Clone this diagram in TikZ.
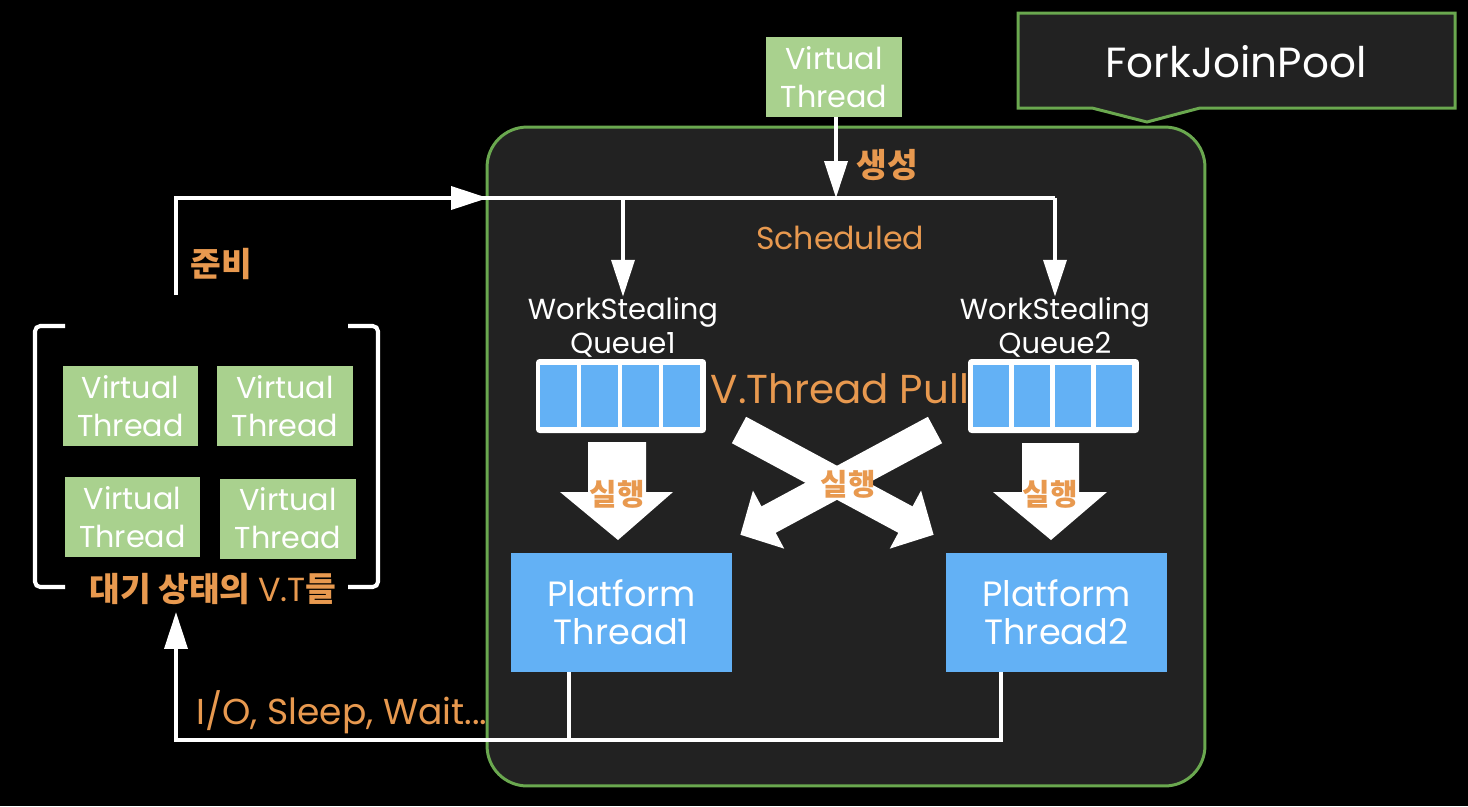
\documentclass[tikz,border=0pt]{standalone}
\usepackage{fontspec}
\setmainfont{Poppins}
\newfontfamily\krf{Noto Sans CJK KR}
\usetikzlibrary{arrows.meta}
\definecolor{panel}{HTML}{222222}
\definecolor{frame}{HTML}{6AA84F}
\definecolor{vtgreen}{HTML}{A9D18E}
\definecolor{ptblue}{HTML}{63B1F5}
\definecolor{orng}{HTML}{E8994F}
\newcommand{\fVT}{\fontsize{17.2}{21.5}\selectfont}
\newcommand{\fPT}{\fontsize{20}{21.5}\selectfont}
\newcommand{\fWS}{\fontsize{16.5}{19.3}\selectfont}
\newcommand{\fBig}{\fontsize{23}{26}\selectfont}
\newcommand{\fLbl}{\fontsize{18}{20}\selectfont}
\newcommand{\fIO}{\fontsize{20.5}{22}\selectfont}
\newcommand{\fKr}{\fontsize{19}{21}\selectfont\krf\bfseries}
\newcommand{\fKrs}{\fontsize{17}{19}\selectfont\krf\bfseries}
\begin{document}
\begin{tikzpicture}[x=0.02cm,y=-0.02cm,
  vt/.style={fill=vtgreen,text=white,minimum width=2.72cm,minimum height=1.6cm,inner sep=0pt,align=center,font=\fVT},
  pt/.style={fill=ptblue,text=white,minimum width=4.42cm,minimum height=2.38cm,inner sep=0pt,align=center,font=\fPT},
  wslabel/.style={text=white,align=center,font=\fWS,inner sep=0pt},
  olabel/.style={text=orng,inner sep=0pt,font=\fLbl},
  klabel/.style={text=orng,inner sep=0pt,font=\fKr},
  kslabel/.style={text=orng,inner sep=0pt,font=\fKrs},
  wline/.style={draw=white,line width=2.3pt},
  tip/.style={-{Triangle[length=21pt,width=13pt]}},
  brk/.style={draw=white,line width=2.3pt,rounded corners=3pt},
  blockarrow/.style={fill=white}
]
\useasboundingbox (0,0) rectangle (1468,806);
\fill[black] (0,0) rectangle (1468,806);

% main pool panel
\node[draw=frame,fill=panel,line width=1.7pt,rounded corners=0.8cm,minimum width=14.36cm,minimum height=13.18cm,inner sep=0pt] (pool) at (846,456.5) {};

% ForkJoinPool callout
\draw[draw=frame,fill=panel,line width=1.7pt] (1018,13) -- (1455,13) -- (1455,108) -- (1200,108) -- (1147,122) -- (1092,108) -- (1018,108) -- cycle;
\node[text=white,font=\fontsize{24}{26}\selectfont,inner sep=0pt] (fjp) at (1236,62) {ForkJoinPool};

% new virtual thread
\node[vt] (newvt) at (834,77) {Virtual\\Thread};

% waiting virtual threads
\node[vt] (w1) at (130.5,406) {Virtual\\Thread};
\node[vt] (w2) at (285,406) {Virtual\\Thread};
\node[vt] (w3) at (132.5,517) {Virtual\\Thread};
\node[vt] (w4) at (288,518.5) {Virtual\\Thread};
\draw[brk] (65,326) -- (35,326) -- (35,587) -- (65,587);
\draw[brk] (348,326) -- (378,326) -- (378,587) -- (348,587);
\node[inner sep=0pt,text=orng] (waitlbl) at (213,589) {\fKr 대기 상태의 {\fontsize{19}{21}\selectfont\mdseries\rmfamily V.T}들};

% work stealing queues
\node[wslabel] (ws1) at (623,327) {WorkStealing\\Queue1};
\node[wslabel] (ws2) at (1055,327) {WorkStealing\\Queue2};
\node[fill=white,rounded corners=2pt,minimum width=3.4cm,minimum height=1.48cm,inner sep=0pt] (q1) at (621,396) {};
\node[fill=white,rounded corners=2pt,minimum width=3.42cm,minimum height=1.48cm,inner sep=0pt] (q2) at (1053.5,396) {};
\foreach \i in {0,1,2,3} {
  \fill[ptblue] (540+\i*41,365) rectangle ++(36.5,62);
  \fill[ptblue] (972.5+\i*41,365) rectangle ++(36.5,62);
}

% platform threads
\node[pt] (pt1) at (621.5,612.5) {Platform\\Thread1};
\node[pt] (pt2) at (1056.5,612.5) {Platform\\Thread2};

% coordinates for connectors
\coordinate (ready0) at (176,295);
\coordinate (entry) at (488,198);
\coordinate (split1) at (623,198);
\coordinate (split2) at (1055,198);
\coordinate (spawn) at (836,198);
\coordinate (low) at (176,740);
\coordinate (waitin) at (176,612);
\coordinate (ret1) at ([xshift=-1.05cm]pt1.south);
\coordinate (ret2) at ([xshift=-1.11cm]pt2.south);

% scheduling lines
\draw[wline] (ready0) |- (split2);
\draw[wline,tip] (ready0) |- (entry);
\draw[wline,tip] (split1) -- (ws1.north);
\draw[wline,tip] (split2) -- (ws2.north);
\draw[wline,tip] (newvt.south -| spawn) -- (spawn);

% return lines
\draw[wline] (ret1) -- (ret1 |- low);
\draw[wline,tip] (ret2) |- (low) -- (waitin);

% block arrows
\fill[blockarrow] (588,442) -- (646,442) -- (646,492) -- (673,492) -- (618,540) -- (560,492) -- (588,492) -- cycle;
\fill[blockarrow] (1022,443) -- (1079,443) -- (1079,492) -- (1107,492) -- (1051,540) -- (993,492) -- (1022,492) -- cycle;
\begin{scope}[shift={(739,430)},rotate=-28.3]
  \fill[blockarrow] (0,15) -- (189,15) -- (189,33) -- (221,0) -- (189,-33) -- (189,-15) -- (0,-15) -- cycle;
\end{scope}
\begin{scope}[shift={(935,430)},rotate=-151.7]
  \fill[blockarrow] (0,15) -- (189,15) -- (189,33) -- (221,0) -- (189,-33) -- (189,-15) -- (0,-15) -- cycle;
\end{scope}

% labels
\node[klabel] (gen) at (887,165) {생성};
\node[olabel] (sched) at (840,238) {Scheduled};
\node[klabel] (ready) at (221,264) {준비};
\node[text=orng,inner sep=0pt,font=\fBig] (pull) at (840,389) {V.Thread Pull};
\node[kslabel] (run1) at (617,494) {실행};
\node[kslabel] (runx) at (848,484) {실행};
\node[kslabel] (run2) at (1050,494) {실행};
\node[text=orng,inner sep=0pt,font=\fIO] (io) at (342,712) {I/O, Sleep, Wait...};
\end{tikzpicture}
\end{document}
